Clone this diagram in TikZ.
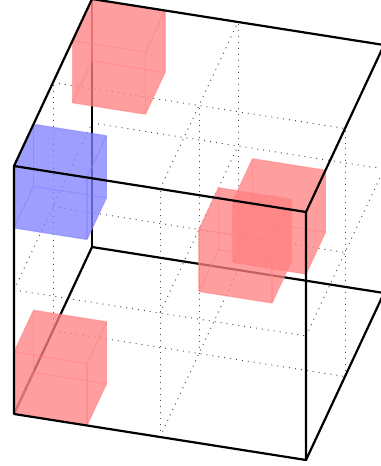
\documentclass[tikz,border=0pt]{standalone}
\usepackage{xcolor}
\usepackage{tikz}

\newcommand{\smallcube}[4]{%
  \begin{scope}[shift={(#2,#3,#4)}]
    \fill[#1!50, opacity=0.76]
      (0,0,0) -- (.25,0,0) -- (.25,.25,0) -- (.25,.25,.25) -- (0,.25,.25) -- (0,0,.25) -- cycle;
    \foreach \a in {0,.25} {
      \foreach \b in {0,.25} {
        \draw[edge, #1!50] (0,\a,\b) -- (.25,\a,\b);
        \draw[edge, #1!50] (\a,0,\b) -- (\a,.25,\b);
        \draw[edge, #1!50] (\a,\b,0) -- (\a,\b,.25);
      }
    }
  \end{scope}
}

\begin{document}
\begin{tikzpicture}[
  x={(5.84cm,-0.92cm)}, y={(1.56cm,3.34cm)}, z={(0cm,4.96cm)},
  frame/.style={line width=1.25pt, line join=round},
  gridline/.style={line width=0.55pt, black!70, dash pattern=on 0.55pt off 2.85pt},
  edge/.style={line width=0.65pt, opacity=0.55}
]
\clip (-0.28cm,-1.04cm) rectangle (7.34cm,8.28cm);

\foreach \a in {0,.5,1} {
  \foreach \b in {0,.5,1} {
    \draw[gridline] (0,\a,\b) -- (1,\a,\b);
    \draw[gridline] (\a,0,\b) -- (\a,1,\b);
    \draw[gridline] (\a,\b,0) -- (\a,\b,1);
  }
}

\draw[frame] (0,0,0) -- (0,1,0) -- (1,1,0);
\draw[frame] (0,1,0) -- (0,1,1);

\smallcube{red}{0}{.75}{.75}
\smallcube{blue}{0}{0}{.75}
\smallcube{red}{0}{0}{0}
\smallcube{red}{.5}{.5}{.25}
\smallcube{red}{.75}{0}{.75}

\draw[frame] (0,0,0) -- (1,0,0) -- (1,0,1) -- (0,0,1) -- cycle;
\draw[frame] (0,0,1) -- (0,1,1) -- (1,1,1) -- (1,0,1);
\draw[frame] (1,0,0) -- (1,1,0) -- (1,1,1);
\end{tikzpicture}
\end{document}
